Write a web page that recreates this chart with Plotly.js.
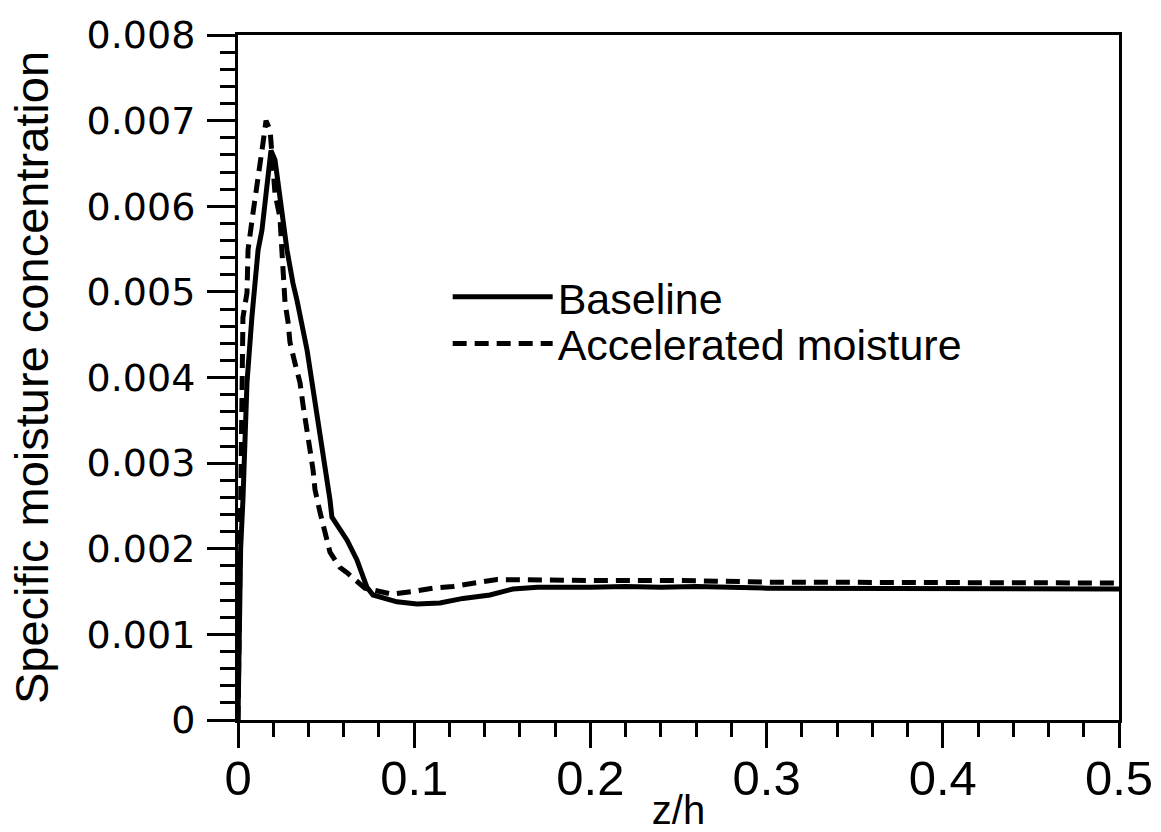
<!DOCTYPE html>
<html>
<head>
<meta charset="utf-8">
<script src="https://cdn.plot.ly/plotly-3.0.1.min.js"></script>
<style>
  html, body { margin: 0; padding: 0; background: #fff; }
  #chart { width: 1161px; height: 832px; }
</style>
</head>
<body>
<div id="chart"></div>
<script>
// Baseline (solid)
const zBaseline = [0, 0.0015, 0.0028, 0.0051, 0.0079, 0.0114, 0.0136, 0.0165, 0.0187, 0.021, 0.0238, 0.0278, 0.0312, 0.0335, 0.0392, 0.0437, 0.0482, 0.0522, 0.0533, 0.0619, 0.0675, 0.0732, 0.0766, 0.0902, 0.1016, 0.1146, 0.1277, 0.143, 0.156, 0.17, 0.2, 0.22, 0.24, 0.26, 0.3, 0.4, 0.5];
const qBaseline = [0, 0.0020, 0.00257, 0.00394, 0.00471, 0.00549, 0.00572, 0.0063, 0.00665, 0.00654, 0.00607, 0.00549, 0.0051, 0.0049, 0.00432, 0.00374, 0.00315, 0.00257, 0.00237, 0.0021, 0.00187, 0.00155, 0.00146, 0.00138, 0.001355, 0.001366, 0.00142, 0.00146, 0.00153, 0.00155, 0.00155, 0.00156, 0.00155, 0.00156, 0.00154, 0.00154, 0.00153];

// Accelerated moisture (dashed)
const zAccel = [0, 0.0012, 0.0023, 0.0028, 0.0051, 0.0057, 0.0085, 0.0108, 0.0125, 0.0142, 0.0159, 0.0182, 0.021, 0.0238, 0.025, 0.0267, 0.0284, 0.0295, 0.0323, 0.0352, 0.0369, 0.0392, 0.0409, 0.0426, 0.0437, 0.0465, 0.0494, 0.0522, 0.0579, 0.0619, 0.072, 0.0874, 0.0988, 0.1107, 0.122, 0.1356, 0.147, 0.2, 0.25, 0.3, 0.4, 0.5];
const qAccel = [0, 0.0025, 0.00432, 0.0047, 0.00499, 0.00549, 0.00592, 0.00622, 0.0065, 0.00674, 0.0070, 0.00689, 0.00615, 0.00587, 0.00545, 0.00487, 0.00465, 0.00441, 0.00417, 0.00394, 0.00368, 0.00342, 0.00315, 0.00292, 0.00269, 0.00243, 0.0022, 0.00196, 0.00178, 0.00172, 0.00154, 0.00147, 0.0015, 0.00154, 0.00156, 0.00161, 0.00164, 0.00163, 0.00163, 0.00161, 0.0016, 0.0016];

const seriesNames = ["Baseline", "Accelerated moisture"];
const xTickVals = [0, 0.1, 0.2, 0.3, 0.4, 0.5];
const xTickText = ["0", "0.1", "0.2", "0.3", "0.4", "0.5"];
const yTickVals = [0, 0.001, 0.002, 0.003, 0.004, 0.005, 0.006, 0.007, 0.008];
const yTickText = ["0", "0.001", "0.002", "0.003", "0.004", "0.005", "0.006", "0.007", "0.008"];

const traces = [
  {
    x: zBaseline, y: qBaseline, name: seriesNames[0],
    type: "scatter", mode: "lines",
    line: { color: "#000", width: 5 },
    legend: "legend"
  },
  {
    x: zAccel, y: qAccel, name: seriesNames[1],
    type: "scatter", mode: "lines",
    line: { color: "#000", width: 5, dash: "14px,8px" },
    legend: "legend2"
  }
];

const legendFont = { family: "Liberation Sans, Arial, sans-serif", size: 43, color: "#000" };

const layout = {
  width: 1161, height: 832,
  paper_bgcolor: "#fff", plot_bgcolor: "#fff",
  margin: { l: 238, r: 42, t: 35, b: 112 },
  showlegend: true,
  legend: {
    x: 0.238, y: 0.668, xanchor: "left", yanchor: "top",
    bgcolor: "rgba(0,0,0,0)", font: legendFont, itemwidth: 100
  },
  legend2: {
    x: 0.238, y: 0.600, xanchor: "left", yanchor: "top",
    bgcolor: "rgba(0,0,0,0)", font: legendFont, itemwidth: 100
  },
  xaxis: {
    range: [0, 0.5],
    tickvals: xTickVals, ticktext: xTickText,
    ticks: "outside", ticklen: 25, tickwidth: 3, tickcolor: "#000",
    minor: { dtick: 0.02, ticks: "outside", ticklen: 14, tickwidth: 3, tickcolor: "#000", showgrid: false },
    showline: true, linewidth: 3, linecolor: "#000", mirror: true,
    showgrid: false, zeroline: false,
    tickfont: { family: "Liberation Sans, Arial, sans-serif", size: 49, color: "#000" },
    ticklabelstandoff: -12,
    title: { text: "z/h", font: { family: "Liberation Sans, Arial, sans-serif", size: 40, color: "#000" }, standoff: 0 }
  },
  yaxis: {
    range: [0, 0.008],
    tickvals: yTickVals, ticktext: yTickText,
    ticks: "outside", ticklen: 28, tickwidth: 3, tickcolor: "#000",
    minor: { dtick: 0.0002, ticks: "outside", ticklen: 15, tickwidth: 3, tickcolor: "#000", showgrid: false },
    showline: true, linewidth: 3, linecolor: "#000", mirror: true,
    showgrid: false, zeroline: false,
    tickfont: { family: "DejaVu Sans, sans-serif", size: 38, color: "#000" },
    ticklabelstandoff: 4,
    title: { text: "Specific moisture concentration", font: { family: "Liberation Sans, Arial, sans-serif", size: 47, color: "#000" }, standoff: 24 }
  }
};

Plotly.newPlot("chart", traces, layout, { displayModeBar: false, staticPlot: true });
</script>
</body>
</html>
